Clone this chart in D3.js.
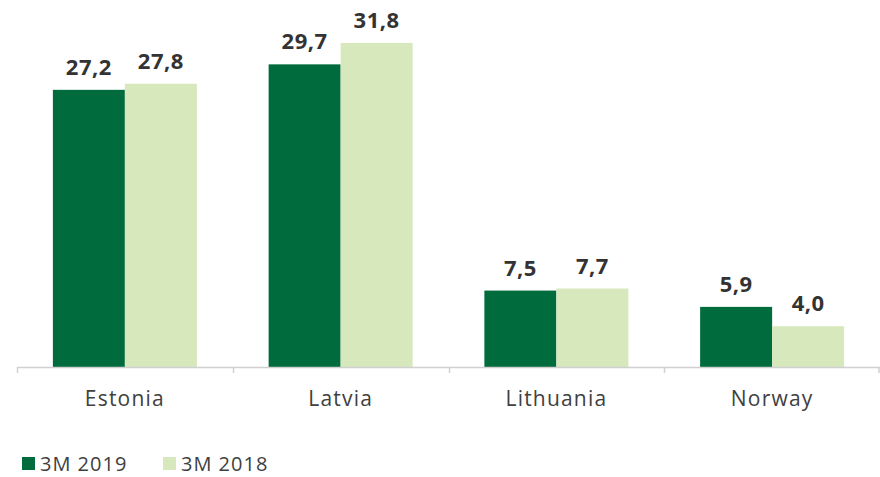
<!DOCTYPE html>
<html><head><meta charset="utf-8">
<script src="https://cdn.jsdelivr.net/npm/d3@7"></script>
<style>body{margin:0;background:#fff}svg{display:block}text{font-family:"Open Sans",Roboto,sans-serif}</style>
</head><body><svg id="c" width="880" height="477"></svg>
<script>
const categories = ["Estonia","Latvia","Lithuania","Norway"];
const series2019 = [27.2,29.7,7.5,5.9];
const series2018 = [27.8,31.8,7.7,4.0];
const seriesNames = ["3M 2019","3M 2018"];
const colors = ["#006B3C","#D7E8BC"];

const svg = d3.select("#c");
const x0 = d3.scaleBand().domain(categories).range([17,880]).paddingInner(0).paddingOuter(0);
const x1 = d3.scaleBand().domain(seriesNames).range([0, 144]);
const y = d3.scaleLinear().domain([0,35]).range([367, 367-35*10.19]);

const g = svg.append("g");
categories.forEach((c,i)=>{
  const vals=[series2019[i],series2018[i]];
  const off = x0(c)+x0.bandwidth()/2-72;
  vals.forEach((v,j)=>{
    g.append("rect").attr("x",off+x1(seriesNames[j])).attr("y",y(v))
     .attr("width",x1.bandwidth()).attr("height",y(0)-y(v)).attr("fill",colors[j]);
    g.append("text").attr("x",off+x1(seriesNames[j])+x1.bandwidth()/2).attr("y",y(v)-15)
     .attr("text-anchor","middle").attr("font-size",22).attr("font-weight",700).attr("fill","#333")
     .attr("letter-spacing","0.5px")
     .text(d3.format(".1f")(v).replace(".",","));
  });
});

const axis = d3.axisBottom(x0).tickSize(0).tickPadding(0);
const ax = svg.append("g").attr("transform","translate(0,367)");
ax.append("line").attr("x1",17).attr("x2",880).attr("y1",0.5).attr("y2",0.5).attr("stroke","#d0d0d0").attr("stroke-width",1.5);
const bounds = categories.map(c=>x0(c)).concat([x0(categories[categories.length-1])+x0.bandwidth()]);
bounds.forEach(b=>{
  const xx=Math.min(Math.round(b)+0.5,879);
  ax.append("line").attr("x1",xx).attr("x2",xx).attr("y1",0).attr("y2",6).attr("stroke","#d0d0d0").attr("stroke-width",1.5);
});
ax.call(axis).call(a=>a.select(".domain").remove())
  .selectAll("text").attr("font-size",21).attr("fill","#404040").attr("dy",0).attr("y",39)
  .attr("font-family","'Open Sans',sans-serif").attr("letter-spacing","1.2px");

const leg = svg.append("g");
const legX=[22,163];
seriesNames.forEach((s,i)=>{
  leg.append("rect").attr("x",legX[i]).attr("y",457).attr("width",13).attr("height",13).attr("fill",colors[i]);
  leg.append("text").attr("x",legX[i]+18).attr("y",471).attr("font-size",20).attr("fill","#404040")
    .attr("letter-spacing","1px").text(s);
});
</script></body></html>
